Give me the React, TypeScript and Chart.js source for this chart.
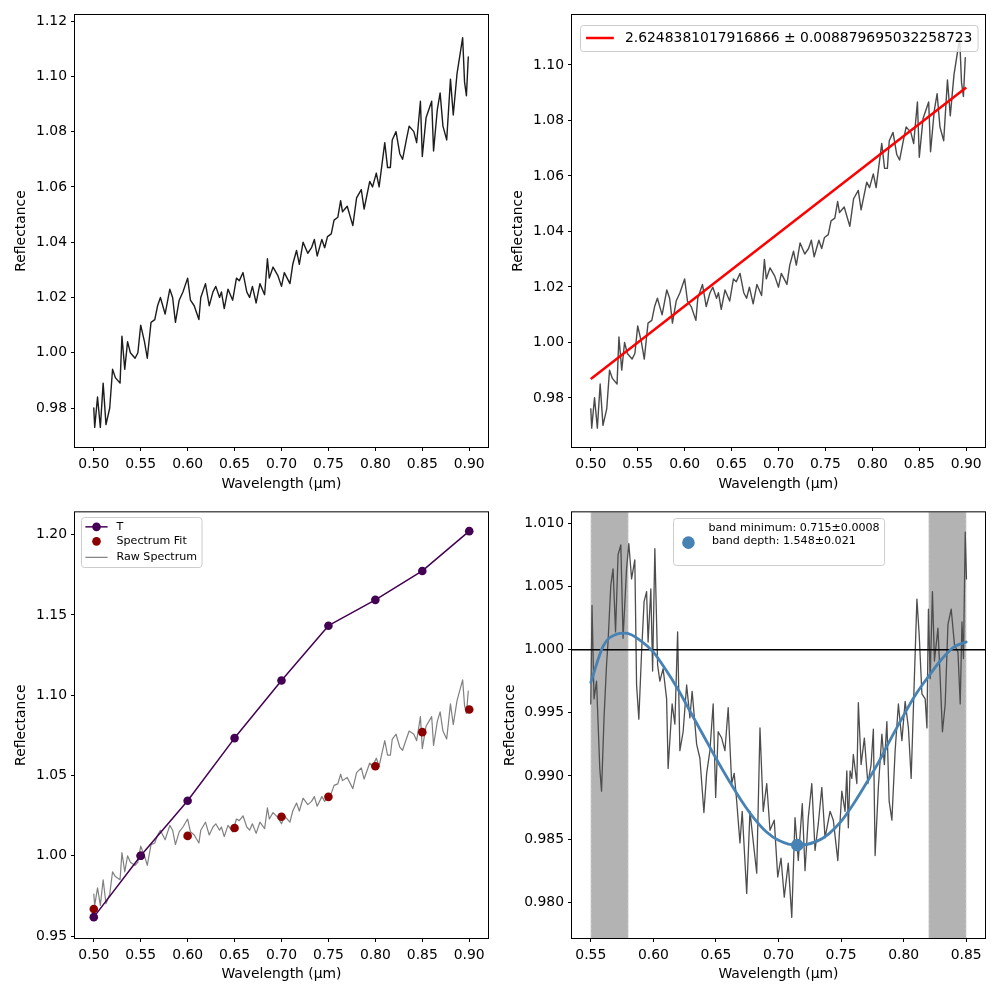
import React, { useEffect, useRef } from "react";
import { Chart, registerables } from "chart.js";

Chart.register(...registerables);
Chart.defaults.font.family = "'DejaVu Sans', sans-serif";
Chart.defaults.color = "#000";

// ---- Reflectance spectrum (wavelength in µm, relative reflectance) ----
const specWave = [
  0.500, 0.501, 0.504, 0.507, 0.510, 0.513, 0.517, 0.520, 0.523, 0.528,
  0.530, 0.533, 0.536, 0.539, 0.544, 0.547, 0.550, 0.554, 0.557, 0.561,
  0.565, 0.568, 0.571, 0.576, 0.581, 0.584, 0.587, 0.591, 0.595, 0.600,
  0.603, 0.607, 0.612, 0.614, 0.619, 0.623, 0.627, 0.630, 0.634, 0.636,
  0.639, 0.643, 0.648, 0.652, 0.655, 0.659, 0.663, 0.666, 0.669, 0.673,
  0.677, 0.682, 0.685, 0.687, 0.691, 0.696, 0.700, 0.703, 0.709, 0.712,
  0.716, 0.719, 0.723, 0.728, 0.732, 0.735, 0.738, 0.743, 0.746, 0.749,
  0.753, 0.756, 0.760, 0.763, 0.765, 0.770, 0.776, 0.780, 0.785, 0.788,
  0.794, 0.797, 0.801, 0.804, 0.810, 0.813, 0.816, 0.818, 0.822, 0.826,
  0.829, 0.833, 0.836, 0.841, 0.844, 0.848, 0.850, 0.854, 0.860, 0.862,
  0.866, 0.869, 0.872, 0.876, 0.880, 0.883, 0.887, 0.893, 0.895, 0.897,
  0.899,
];
const specRefl = [
  0.980, 0.973, 0.984, 0.973, 0.989, 0.974, 0.980, 0.994, 0.991, 0.989,
  1.006, 0.994, 1.004, 1.000, 0.998, 1.000, 1.010, 1.004, 0.998, 1.011,
  1.012, 1.017, 1.020, 1.014, 1.023, 1.020, 1.011, 1.019, 1.022, 1.027,
  1.019, 1.017, 1.012, 1.020, 1.025, 1.017, 1.022, 1.024, 1.020, 1.022,
  1.016, 1.023, 1.019, 1.027, 1.026, 1.029, 1.022, 1.020, 1.024, 1.018,
  1.025, 1.021, 1.034, 1.027, 1.031, 1.028, 1.024, 1.029, 1.025, 1.032,
  1.037, 1.032, 1.040, 1.036, 1.038, 1.041, 1.035, 1.041, 1.038, 1.042,
  1.043, 1.048, 1.049, 1.055, 1.051, 1.053, 1.046, 1.056, 1.059, 1.052,
  1.062, 1.060, 1.065, 1.060, 1.076, 1.067, 1.067, 1.077, 1.080, 1.072,
  1.070, 1.077, 1.082, 1.080, 1.076, 1.091, 1.071, 1.085, 1.091, 1.073,
  1.088, 1.094, 1.082, 1.077, 1.099, 1.086, 1.101, 1.114, 1.098, 1.093,
  1.107,
];
// Reflectance at 0.55 µm, used to normalise the spectrum to unity there
const reflAt055 = 1.004;

// ---- Linear slope fit (percent per 0.1 µm, normalised at 0.55 µm) ----
const slopePct = 2.6248381017916866;
const slopeErr = 0.008879695032258723;
const slopeWave = [0.5, 0.9];

// ---- Filter photometry ----
const filterWave = [0.5, 0.55, 0.6, 0.65, 0.7, 0.75, 0.8, 0.85, 0.9];
const tRefl = [0.9618, 1.0, 1.0343, 1.0733, 1.1092, 1.1433, 1.1594, 1.1774, 1.2022];
const specFitRefl = [0.9669, 1.0, 1.0124, 1.0173, 1.0243, 1.0367, 1.0558, 1.077, 1.0911];

// ---- Continuum-removed 0.7 µm band ----
const bandWave = [
  0.5500, 0.5510, 0.5526, 0.5546, 0.5572, 0.5586, 0.5606, 0.5626, 0.5638, 0.5660,
  0.5678, 0.5698, 0.5718, 0.5740, 0.5758, 0.5786, 0.5804, 0.5826, 0.5852, 0.5866,
  0.5884, 0.5906, 0.5926, 0.5946, 0.5958, 0.5980, 0.5994, 0.6012, 0.6034, 0.6052,
  0.6078, 0.6106, 0.6118, 0.6150, 0.6172, 0.6194, 0.6212, 0.6238, 0.6266, 0.6292,
  0.6310, 0.6346, 0.6372, 0.6404, 0.6426, 0.6452, 0.6478, 0.6498, 0.6518, 0.6546,
  0.6572, 0.6598, 0.6626, 0.6646, 0.6666, 0.6692, 0.6710, 0.6746, 0.6772, 0.6806,
  0.6826, 0.6852, 0.6878, 0.6906, 0.6932, 0.6966, 0.6994, 0.7020, 0.7046, 0.7078,
  0.7106, 0.7132, 0.7158, 0.7190, 0.7212, 0.7238, 0.7266, 0.7292, 0.7318, 0.7346,
  0.7372, 0.7412, 0.7438, 0.7474, 0.7506, 0.7532, 0.7546, 0.7558, 0.7572, 0.7586,
  0.7598, 0.7626, 0.7638, 0.7660, 0.7686, 0.7714, 0.7740, 0.7758, 0.7772, 0.7798,
  0.7826, 0.7846, 0.7866, 0.7884, 0.7906, 0.7932, 0.7958, 0.7986, 0.8012, 0.8038,
  0.8060, 0.8078, 0.8106, 0.8124, 0.8146, 0.8172, 0.8186, 0.8198, 0.8212, 0.8230,
  0.8246, 0.8274, 0.8292, 0.8310, 0.8332, 0.8354, 0.8380, 0.8406, 0.8434, 0.8452,
  0.8466, 0.8478, 0.8492, 0.8502,
];
const bandRefl = [
  0.9957, 1.0035, 0.9961, 0.9975, 0.9906, 0.9888, 0.9946, 0.9988, 1.0006, 1.0051,
  1.0064, 1.0014, 1.0075, 1.0083, 1.0009, 1.0064, 1.0084, 1.0056, 1.0071, 0.9972,
  0.9945, 0.9998, 1.0038, 1.0046, 1.0006, 1.0048, 0.9983, 1.0080, 0.9988, 0.9975,
  0.9985, 0.9961, 0.9906, 0.9957, 0.9941, 1.0014, 0.9920, 0.9935, 0.9972, 0.9946,
  0.9967, 0.9925, 0.9914, 0.9871, 0.9902, 0.9920, 0.9957, 0.9883, 0.9935, 0.9930,
  0.9920, 0.9954, 0.9894, 0.9902, 0.9880, 0.9847, 0.9872, 0.9807, 0.9872, 0.9841,
  0.9823, 0.9938, 0.9872, 0.9894, 0.9857, 0.9865, 0.9820, 0.9835, 0.9804, 0.9831,
  0.9788, 0.9867, 0.9833, 0.9878, 0.9825, 0.9867, 0.9894, 0.9841, 0.9862, 0.9891,
  0.9851, 0.9872, 0.9865, 0.9833, 0.9888, 0.9872, 0.9904, 0.9859, 0.9904, 0.9898,
  0.9917, 0.9894, 0.9958, 0.9909, 0.9930, 0.9894, 0.9909, 0.9937, 0.9837, 0.9891,
  0.9933, 0.9909, 0.9943, 0.9880, 0.9865, 0.9920, 0.9957, 0.9928, 0.9959, 0.9938,
  0.9898, 0.9954, 1.0040, 1.0012, 0.9965, 0.9961, 0.9938, 1.0032, 0.9977, 1.0046,
  0.9991, 1.0017, 0.9977, 0.9935, 0.9957, 1.0020, 1.0032, 1.0004, 0.9998, 0.9957,
  1.0022, 0.9993, 1.0093, 1.0056,
];
// Polynomial band model
const modelWave = [
  0.550, 0.560, 0.570, 0.578, 0.590, 0.600, 0.610, 0.620, 0.630, 0.640,
  0.650, 0.660, 0.670, 0.680, 0.690, 0.700, 0.715, 0.730, 0.740, 0.750,
  0.760, 0.770, 0.780, 0.790, 0.800, 0.810, 0.820, 0.830, 0.840, 0.850,
];
const modelRefl = [
  0.9974, 1.0003, 1.0012, 1.0013, 1.0007, 0.9998, 0.9984, 0.9968, 0.9950, 0.9932,
  0.9914, 0.9897, 0.9881, 0.9867, 0.9856, 0.9849, 0.9845, 0.9848, 0.9854, 0.9864,
  0.9878, 0.9894, 0.9911, 0.9930, 0.9948, 0.9965, 0.9979, 0.9992, 1.0002, 1.0006,
];
const bandMin = 0.715;
const bandMinErr = 0.0008;
const bandDepth = 1.548; // percent below the continuum
const bandDepthErr = 0.021;
const continuumLevel = 1.0;
const continuumRanges: [number, number][] = [
  [0.55, 0.58],
  [0.82, 0.85],
];

// ---- Tick values ----
const waveTicks = [0.5, 0.55, 0.6, 0.65, 0.7, 0.75, 0.8, 0.85, 0.9];
const bandWaveTicks = [0.55, 0.6, 0.65, 0.7, 0.75, 0.8, 0.85];
const rawReflTicks = [0.98, 1.0, 1.02, 1.04, 1.06, 1.08, 1.1, 1.12];
const slopeReflTicks = [0.98, 1.0, 1.02, 1.04, 1.06, 1.08, 1.1];
const photReflTicks = [0.95, 1.0, 1.05, 1.1, 1.15, 1.2];
const bandReflTicks = [0.98, 0.985, 0.99, 0.995, 1.0, 1.005, 1.01];

const FS = 13.9;
const SMALL_FS = 11.1;
const PURPLE = "#440154";
const DARKRED = "#8b0000";
const STEELBLUE = "#4682b4";

const pts = (xs: number[], ys: number[]) => xs.map((x, i) => ({ x, y: ys[i] }));
const normSpec = specRefl.map((v) => v / reflAt055);

// ---- Plugins ----
const framePlugin = {
  id: "frame",
  afterDatasetsDraw(chart: any) {
    const { ctx, chartArea: a } = chart;
    ctx.save();
    ctx.strokeStyle = "#000";
    ctx.lineWidth = 1;
    ctx.strokeRect(a.left - 0.5, a.top - 0.5, a.right - a.left + 1, a.bottom - a.top + 1);
    ctx.restore();
  },
};

const shadePlugin = {
  id: "continuumShade",
  beforeDatasetsDraw(chart: any) {
    const { ctx, chartArea: a, scales } = chart;
    const xs = scales.x;
    ctx.save();
    for (const [lo, hi] of continuumRanges) {
      const x0 = xs.getPixelForValue(lo);
      const x1 = xs.getPixelForValue(hi);
      ctx.fillStyle = "#b3b3b3";
      ctx.fillRect(x0, a.top, x1 - x0, a.bottom - a.top);
      ctx.strokeStyle = "#e6e6e6";
      ctx.lineWidth = 1;
      ctx.setLineDash([3, 2]);
      ctx.beginPath();
      ctx.moveTo(x0, a.top);
      ctx.lineTo(x0, a.bottom);
      ctx.moveTo(x1, a.top);
      ctx.lineTo(x1, a.bottom);
      ctx.stroke();
      ctx.setLineDash([]);
    }
    ctx.restore();
  },
};

type LegendRow = {
  kind: "line" | "dot" | "linedot";
  color: string;
  width?: number;
  radius?: number;
  y: number;
  text: string[];
  textY: number[];
};
type LegendSpec = {
  anchor: "left" | "right" | "center";
  dx: number;
  dy: number;
  height: number;
  fontSize: number;
  pad: number;
  handleLen: number;
  gap: number;
  rows: LegendRow[];
};

function legendPlugin(id: string, spec: LegendSpec) {
  return {
    id,
    afterDraw(chart: any) {
      const { ctx, chartArea: a } = chart;
      ctx.save();
      ctx.font = `${spec.fontSize}px 'DejaVu Sans', sans-serif`;
      let tw = 0;
      spec.rows.forEach((r) => r.text.forEach((t) => (tw = Math.max(tw, ctx.measureText(t).width))));
      const w = spec.pad * 2 + spec.handleLen + spec.gap + tw;
      const left =
        spec.anchor === "left"
          ? a.left + spec.dx
          : spec.anchor === "right"
          ? a.right - spec.dx - w
          : (a.left + a.right) / 2 - w / 2;
      const top = a.top + spec.dy;
      ctx.beginPath();
      ctx.roundRect(Math.round(left) + 0.5, Math.round(top) + 0.5, w, spec.height, 3);
      ctx.fillStyle = "rgba(255,255,255,0.8)";
      ctx.fill();
      ctx.strokeStyle = "#cccccc";
      ctx.lineWidth = 1;
      ctx.stroke();
      const hx0 = left + spec.pad;
      const hx1 = hx0 + spec.handleLen;
      const tx = hx1 + spec.gap;
      for (const r of spec.rows) {
        const y = top + r.y;
        if (r.kind !== "dot") {
          ctx.strokeStyle = r.color;
          ctx.lineWidth = r.width || 1;
          ctx.beginPath();
          ctx.moveTo(hx0, y);
          ctx.lineTo(hx1, y);
          ctx.stroke();
        }
        if (r.kind !== "line") {
          ctx.fillStyle = r.color;
          ctx.beginPath();
          ctx.arc((hx0 + hx1) / 2, y, r.radius || 4, 0, Math.PI * 2);
          ctx.fill();
        }
        ctx.fillStyle = "#000";
        ctx.textAlign = "left";
        ctx.textBaseline = "middle";
        r.text.forEach((t, i) => ctx.fillText(t, tx, top + r.textY[i]));
      }
      ctx.restore();
    },
  };
}

// ---- Axis options ----
type AxisCfg = {
  xMin: number;
  xMax: number;
  xTicks: number[];
  yMin: number;
  yMax: number;
  yTicks: number[];
  yDigits: number;
  yWidth: number;
  xHeight: number;
  yTitlePad: number;
  xTitlePad: number;
};

function scalesFor(c: AxisCfg) {
  const grid = {
    drawOnChartArea: false,
    drawTicks: true,
    tickLength: 4,
    tickColor: "#000",
    tickWidth: 1,
  };
  return {
    x: {
      type: "linear",
      position: "bottom",
      min: c.xMin,
      max: c.xMax,
      afterBuildTicks: (s: any) => {
        s.ticks = c.xTicks.map((v) => ({ value: v }));
      },
      afterFit: (s: any) => {
        s.height = c.xHeight;
      },
      ticks: {
        callback: (v: any) => Number(v).toFixed(2),
        font: { size: FS },
        color: "#000",
        padding: 5,
        maxRotation: 0,
        minRotation: 0,
        autoSkip: false,
      },
      grid,
      border: { display: false },
      title: {
        display: true,
        text: "Wavelength (μm)",
        font: { size: FS },
        color: "#000",
        padding: { top: 0, bottom: c.xTitlePad },
      },
    },
    y: {
      type: "linear",
      position: "left",
      min: c.yMin,
      max: c.yMax,
      afterBuildTicks: (s: any) => {
        s.ticks = c.yTicks.map((v) => ({ value: v }));
      },
      afterFit: (s: any) => {
        s.width = c.yWidth;
      },
      ticks: {
        callback: (v: any) => Number(v).toFixed(c.yDigits),
        font: { size: FS },
        color: "#000",
        padding: 4,
        autoSkip: false,
      },
      grid,
      border: { display: false },
      title: {
        display: true,
        text: "Reflectance",
        font: { size: FS },
        color: "#000",
        padding: { top: c.yTitlePad, bottom: 0 },
      },
    },
  };
}

function baseOptions(c: AxisCfg, padding: any) {
  return {
    responsive: false,
    animation: false,
    devicePixelRatio: 1,
    layout: { padding },
    plugins: { legend: { display: false }, tooltip: { enabled: false } },
    events: [],
    scales: scalesFor(c),
  };
}

const lineSet = (data: any[], color: string, width: number, extra: any = {}) => ({
  data,
  showLine: true,
  borderColor: color,
  backgroundColor: color,
  borderWidth: width,
  borderJoinStyle: "round",
  borderCapStyle: "round",
  pointRadius: 0,
  tension: 0,
  ...extra,
});

// ---- Panels ----
function rawSpectrumChart(): any {
  return {
    type: "scatter",
    data: { datasets: [lineSet(pts(specWave, specRefl), "#1c1c1c", 1.4)] },
    options: baseOptions(
      {
        xMin: 0.48, xMax: 0.92, xTicks: waveTicks,
        yMin: 0.96589, yMax: 1.1222, yTicks: rawReflTicks, yDigits: 2,
        yWidth: 75, xHeight: 53, yTitlePad: 12.7, xTitlePad: 7.7,
      },
      { left: 0, right: 12, top: 15, bottom: 0 }
    ),
    plugins: [framePlugin],
  };
}

function slopeChart(): any {
  const slopeRefl = slopeWave.map((w) => continuumLevel + (slopePct / 100) * ((w - 0.55) / 0.1));
  return {
    type: "scatter",
    data: {
      datasets: [
        lineSet(pts(slopeWave, slopeRefl), "#ff0000", 2.5, { borderCapStyle: "butt" }),
        lineSet(pts(specWave, normSpec), "#4a4a4a", 1.4),
      ],
    },
    options: baseOptions(
      {
        xMin: 0.48, xMax: 0.92, xTicks: waveTicks,
        yMin: 0.96234, yMax: 1.118, yTicks: slopeReflTicks, yDigits: 2,
        yWidth: 72, xHeight: 53, yTitlePad: 9.7, xTitlePad: 7.7,
      },
      { left: 0, right: 15, top: 15, bottom: 0 }
    ),
    plugins: [
      framePlugin,
      legendPlugin("slopeLegend", {
        anchor: "right", dx: 7, dy: 10, height: 26, fontSize: FS,
        pad: 5.6, handleLen: 27.8, gap: 11.1,
        rows: [
          { kind: "line", color: "#ff0000", width: 2.5, y: 13, text: [`${slopePct} ± ${slopeErr}`], textY: [13] },
        ],
      }),
    ],
  };
}

function photometryChart(): any {
  return {
    type: "scatter",
    data: {
      datasets: [
        lineSet(pts(filterWave, tRefl), PURPLE, 1.5, { pointRadius: 4.3, pointBorderWidth: 0 }),
        {
          data: pts(filterWave, specFitRefl),
          showLine: false,
          backgroundColor: DARKRED,
          borderColor: DARKRED,
          pointRadius: 4.3,
          pointBorderWidth: 0,
        },
        lineSet(pts(specWave, normSpec), "#808080", 1.2),
      ],
    },
    options: baseOptions(
      {
        xMin: 0.48, xMax: 0.92, xTicks: waveTicks,
        yMin: 0.9488, yMax: 1.2139, yTicks: photReflTicks, yDigits: 2,
        yWidth: 75, xHeight: 62, yTitlePad: 12.7, xTitlePad: 17.7,
      },
      { left: 0, right: 12, top: 10, bottom: 0 }
    ),
    plugins: [
      framePlugin,
      legendPlugin("photLegend", {
        anchor: "left", dx: 6, dy: 5, height: 50, fontSize: SMALL_FS,
        pad: 4.4, handleLen: 22.2, gap: 8.9,
        rows: [
          { kind: "linedot", color: PURPLE, width: 1.5, radius: 4.3, y: 9.5, text: ["T"], textY: [9.5] },
          { kind: "dot", color: DARKRED, radius: 4.3, y: 24, text: ["Spectrum Fit"], textY: [24] },
          { kind: "line", color: "#808080", width: 1.2, y: 40, text: ["Raw Spectrum"], textY: [40] },
        ],
      }),
    ],
  };
}

function bandChart(): any {
  const xMin = 0.535;
  const xMax = 0.865;
  const minRefl = continuumLevel - bandDepth / 100;
  return {
    type: "scatter",
    data: {
      datasets: [
        {
          data: [{ x: bandMin, y: minRefl }],
          showLine: false,
          backgroundColor: STEELBLUE,
          borderColor: STEELBLUE,
          pointRadius: 6.3,
          pointBorderWidth: 0,
        },
        lineSet(pts(modelWave, modelRefl), STEELBLUE, 2.8, { cubicInterpolationMode: "monotone" }),
        lineSet(pts([xMin, xMax], [continuumLevel, continuumLevel]), "#000", 1.5, { borderCapStyle: "butt" }),
        lineSet(pts(bandWave, bandRefl), "#4d4d4d", 1.3),
      ],
    },
    options: baseOptions(
      {
        xMin, xMax, xTicks: bandWaveTicks,
        yMin: 0.97717, yMax: 1.01087, yTicks: bandReflTicks, yDigits: 3,
        yWidth: 72, xHeight: 62, yTitlePad: 1.7, xTitlePad: 17.7,
      },
      { left: 0, right: 15, top: 10, bottom: 0 }
    ),
    plugins: [
      shadePlugin,
      framePlugin,
      legendPlugin("bandLegend", {
        anchor: "center", dx: 0, dy: 6, height: 47, fontSize: SMALL_FS,
        pad: 4.4, handleLen: 22.2, gap: 8.9,
        rows: [
          {
            kind: "dot",
            color: STEELBLUE,
            radius: 6.3,
            y: 24.3,
            text: [`band minimum: ${bandMin}±${bandMinErr}`, ` band depth: ${bandDepth}±${bandDepthErr}`],
            textY: [10, 22.7],
          },
        ],
      }),
    ],
  };
}

function Panel({ left, top, build }: { left: number; top: number; build: () => any }) {
  const ref = useRef<HTMLCanvasElement>(null);
  useEffect(() => {
    const chart = new Chart(ref.current as HTMLCanvasElement, build());
    return () => chart.destroy();
  }, [build]);
  return (
    <canvas
      ref={ref}
      width={500}
      height={500}
      style={{ position: "absolute", left, top, width: 500, height: 500 }}
    />
  );
}

export default function App() {
  return (
    <div style={{ position: "absolute", left: 0, top: 0, width: 1000, height: 1000, background: "#fff" }}>
      <Panel left={0} top={0} build={rawSpectrumChart} />
      <Panel left={500} top={0} build={slopeChart} />
      <Panel left={0} top={500} build={photometryChart} />
      <Panel left={500} top={500} build={bandChart} />
    </div>
  );
}
